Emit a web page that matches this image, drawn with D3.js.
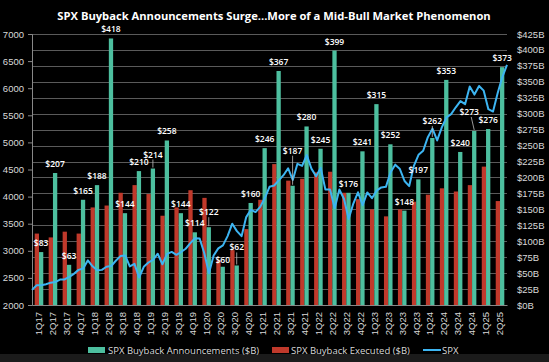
<!DOCTYPE html>
<meta charset="utf-8">
<style>
  body { margin: 0; background: #000; }
  svg { display: block; font-family: "Open Sans", "Noto Sans", sans-serif; }
  .barlabel { fill: #fff; font-size: 8.5px; font-weight: 600; text-anchor: middle; }
  .legend text { fill: #d9d9d9; font-size: 9.5px; }
</style>
<svg width="549" height="362"></svg>
<script src="https://d3js.org/d3.v7.min.js"></script>
<script>

  var quarters = ["1Q17","2Q17","3Q17","4Q17","1Q18","2Q18","3Q18","4Q18","1Q19","2Q19","3Q19","4Q19",
                  "1Q20","2Q20","3Q20","4Q20","1Q21","2Q21","3Q21","4Q21","1Q22","2Q22","3Q22","4Q22",
                  "1Q23","2Q23","3Q23","4Q23","1Q24","2Q24","3Q24","4Q24","1Q25","2Q25"];

  // buyback announcements ($B) - the labelled teal bars
  var announced = [83,207,63,165,188,418,144,210,214,258,144,114,122,60,62,160,246,367,187,280,
                   245,399,176,241,315,252,148,197,262,353,240,273,276,373];

  // buybacks executed ($B) - red bars
  var executed = [112,106,115,112,153,156,176,188,174,140,153,180,168,70,86,119,165,221,195,198,
                  208,209,176,166,150,139,150,162,173,183,178,188,217,163];

  // SPX month-end level, Jan 2017 onward
  var spx = [2279,2364,2363,2384,2412,2423,2470,2472,2519,2575,2648,2674,
             2824,2714,2641,2648,2705,2718,2816,2902,2914,2712,2760,2507,
             2704,2784,2834,2946,2752,2942,2980,2926,2977,3038,3141,3231,
             3226,2954,2585,2912,3044,3100,3271,3500,3363,3270,3622,3756,
             3714,3811,3973,4181,4204,4298,4395,4523,4308,4605,4567,4766,
             4516,4374,4530,4132,4132,3785,4130,3955,3586,3872,4080,3840,
             4077,3970,4109,4169,4180,4450,4589,4508,4288,4194,4568,4770,
             4846,5096,5254,5036,5278,5460,5522,5648,5762,5705,6032,5882,
             6041,5955,5612,5569,5912,6205,6430];

  var leftTicks = [2000,2500,3000,3500,4000,4500,5000,5500,6000,6500,7000];
  var rightTicks = d3.range(0, 426, 25);

  // label nudges (extra lift, sideways shift, leader line) for crowded labels
  var nudge = {"1Q20": {dy: 6, lead: true}, "3Q20": {dy: 9, lead: true},
               "3Q21": {dy: 26, lead: true}, "1Q19": {dy: 5, lead: true},
               "1Q24": {dy: 8, lead: true}, "4Q24": {dy: 10, dx: -5, lead: true}, "2Q20": {dy: -2}};

  var svg = d3.select("svg");
  var W = 549, H = 362;
  var mLeft = 32, mRight = 507, mTop = 34, mBottom = 305;

  svg.append("rect").attr("width", W).attr("height", H).attr("fill", "#1b1b1b");
  svg.append("rect").attr("width", W).attr("height", 354).attr("fill", "#000");

  var x = d3.scaleBand().domain(quarters).range([mLeft, mRight]).padding(0);
  var x1 = d3.scaleBand().domain(["exec","ann"]).range([0, x.bandwidth()]).paddingInner(0).paddingOuter(0.63);
  var yL = d3.scaleLinear().domain([2000, 7000]).range([mBottom, mTop]);
  var yR = d3.scaleLinear().domain([0, 425]).range([mBottom, mTop]);
  var xm = d3.scaleLinear().domain([0, spx.length - 1]).range([mLeft, mRight]);

  svg.append("text")
    .attr("x", 274).attr("y", 20)
    .attr("text-anchor", "middle")
    .attr("fill", "#fff")
    .style("font-size", "11.2px").style("font-weight", "bold")
    .text("SPX Buyback Announcements Surge...More of a Mid-Bull Market Phenomenon");

  // gridlines
  svg.append("g").selectAll("line")
    .data(rightTicks.slice(1))
    .enter().append("line")
    .attr("x1", mLeft).attr("x2", mRight)
    .attr("y1", function(d) { return Math.round(yR(d)) + 0.5; })
    .attr("y2", function(d) { return Math.round(yR(d)) + 0.5; })
    .attr("stroke", "#5a5a5a").attr("stroke-width", 1);

  var g = svg.append("g");
  g.selectAll(".exec")
    .data(quarters)
    .enter().append("rect")
    .attr("x", function(d) { return x(d) + x1("exec"); })
    .attr("width", x1.bandwidth())
    .attr("y", function(d, i) { return yR(executed[i]); })
    .attr("height", function(d, i) { return mBottom - yR(executed[i]); })
    .attr("fill", "#c0392b");

  g.selectAll(".ann")
    .data(quarters)
    .enter().append("rect")
    .attr("x", function(d) { return x(d) + x1("ann"); })
    .attr("width", x1.bandwidth())
    .attr("y", function(d, i) { return yR(announced[i]); })
    .attr("height", function(d, i) { return mBottom - yR(announced[i]); })
    .attr("fill", "#4dbf9f");

  // axes
  var axL = svg.append("g")
    .attr("transform", "translate(" + mLeft + ",0)")
    .call(d3.axisLeft(yL).tickValues(leftTicks).tickSize(4).tickPadding(4).tickFormat(d3.format("d")));
  axL.selectAll("text").style("font-size", "9.5px").attr("fill", "#d9d9d9");
  axL.selectAll("line").attr("stroke", "#888");
  axL.select(".domain").attr("stroke", "#888");

  var axR = svg.append("g")
    .attr("transform", "translate(" + mRight + ",0)")
    .call(d3.axisRight(yR).tickValues(rightTicks).tickSize(0).tickPadding(10)
      .tickFormat(function(d) { return "$" + d + "B"; }));
  axR.selectAll("text").style("font-size", "9.5px").attr("fill", "#d9d9d9");
  axR.select(".domain").remove();

  var axB = svg.append("g")
    .attr("transform", "translate(0," + mBottom + ")")
    .call(d3.axisBottom(x).tickSize(0).tickPadding(0));
  axB.select(".domain").attr("stroke", "#888");
  axB.selectAll("text")
    .style("font-size", "9.5px").attr("fill", "#d9d9d9")
    .attr("text-anchor", "end")
    .attr("transform", "rotate(-90)")
    .attr("x", -7).attr("y", 0).attr("dy", "0.35em");

  // SPX line
  svg.append("path")
    .datum(spx)
    .attr("fill", "none")
    .attr("stroke", "#3db5f2")
    .attr("stroke-width", 2)
    .attr("stroke-linejoin", "round")
    .attr("d", d3.line().x(function(d, i) { return xm(i); }).y(function(d) { return yL(d); }));

  // bar labels
  var lab = svg.append("g");
  quarters.forEach(function(q, i) {
    var n = nudge[q] || {};
    var cx = x(q) + x1("ann") + x1.bandwidth() / 2;
    var ty = yR(announced[i]) - 6 - (n.dy || 0);
    if (n.lead) {
      lab.append("line")
        .attr("x1", cx + (n.dx || 0) * 0.6).attr("x2", cx)
        .attr("y1", ty + 2).attr("y2", yR(announced[i]) - 1)
        .attr("stroke", "#bfbfbf").attr("stroke-width", 0.8);
    }
    lab.append("text").attr("class", "barlabel")
      .attr("x", cx + (n.dx || 0)).attr("y", ty)
      .text("$" + announced[i]);
  });

  // legend
  var leg = svg.append("g").attr("class", "legend");
  leg.append("rect").attr("x", 88).attr("y", 347).attr("width", 17).attr("height", 6).attr("fill", "#4dbf9f");
  leg.append("text").attr("x", 108).attr("y", 353.5).text("SPX Buyback Announcements ($B)");
  leg.append("rect").attr("x", 272).attr("y", 347).attr("width", 17).attr("height", 6).attr("fill", "#c0392b");
  leg.append("text").attr("x", 291).attr("y", 353.5).text("SPX Buyback Executed ($B)");
  leg.append("line").attr("x1", 423).attr("x2", 441).attr("y1", 350).attr("y2", 350)
    .attr("stroke", "#3db5f2").attr("stroke-width", 2);
  leg.append("text").attr("x", 442).attr("y", 353.5).text("SPX");

</script>
